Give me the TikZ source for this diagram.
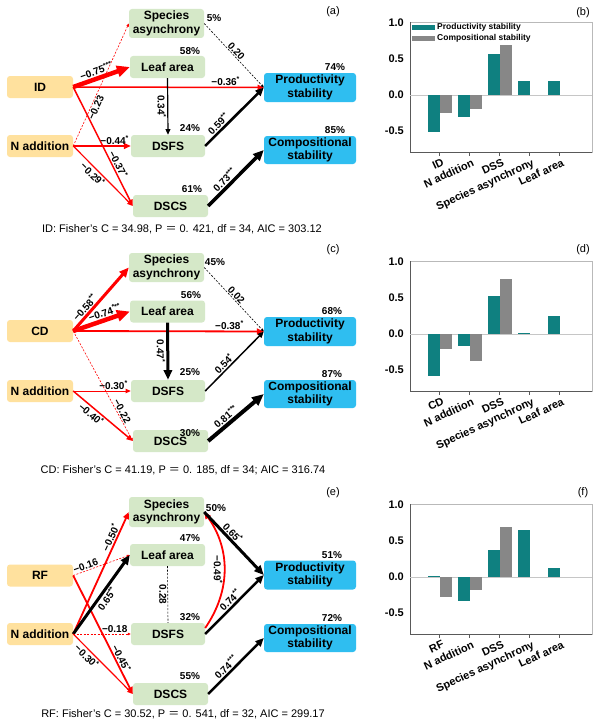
\documentclass[tikz,border=0pt]{standalone}
\usepackage{fontspec}
\setmainfont{Liberation Sans}
\newfontfamily\cjk{Noto Sans CJK SC}
\usetikzlibrary{arrows.meta}
\definecolor{boxgreen}{HTML}{D5E8C8}
\definecolor{boxyellow}{HTML}{FFE19E}
\definecolor{boxblue}{HTML}{2FBEF0}
\definecolor{tealc}{HTML}{0F8080}
\definecolor{grayc}{HTML}{878787}
\definecolor{redc}{HTML}{FF0000}
\newcommand{\st}[1]{\textsuperscript{#1}}
\newcommand{\bxf}{\fontsize{12}{13.5}\selectfont\bfseries}
\newcommand{\lbf}{\fontsize{10}{11}\selectfont\bfseries}
\newcommand{\pcf}{\fontsize{10}{11}\selectfont\bfseries}
\newcommand{\cpf}{\fontsize{11}{12}\selectfont}
\newcommand{\tkf}{\fontsize{11}{12}\selectfont\bfseries}
\newcommand{\lgf}{\fontsize{8.5}{10}\selectfont\bfseries}
\tikzset{
  anybox/.style={rounded corners=3pt, font=\bxf, align=center, inner sep=0pt, minimum height=22pt},
  gbox/.style={anybox, fill=boxgreen, minimum width=75pt},
  ybox/.style={anybox, fill=boxyellow, minimum width=66pt},
  bbox/.style={anybox, fill=boxblue, minimum width=92pt, minimum height=29pt},
  redar/.style={draw=redc, line width=#1, -{Triangle[length=3pt 2.2, width=2.5pt 1.9]}},
  blkar/.style={draw=black, line width=#1, -{Triangle[length=3pt 2.2, width=2.5pt 1.9]}},
  reddash/.style={draw=redc, line width=0.6pt, dash pattern=on 2pt off 1.5pt, -{Triangle[length=3pt, width=2.5pt]}},
  blkdash/.style={draw=black, line width=0.6pt, dash pattern=on 2pt off 1.5pt, -{Triangle[length=3pt, width=2.5pt]}},
  blkdashplain/.style={draw=black, line width=0.6pt, dash pattern=on 2pt off 1.5pt},
  lab/.style={font=\lbf, inner sep=1pt},
  pct/.style={font=\pcf, inner sep=0pt},
  captx/.style={font=\cpf, inner sep=0pt},
  plab/.style={font=\cpf, inner sep=0pt},
  ylab/.style={font=\tkf, inner sep=0pt, anchor=east},
  xlab/.style={font=\tkf, inner sep=0pt, anchor=north east, rotate=25},
}
\newcommand{\chartframe}{%
  \draw[gray!55, line width=0.7pt] (410,-73) rectangle (592,57.6);
  \draw[black!65, line width=0.8pt] (410,-73) -- (410,57.6) -- (592,57.6);
  \draw[gray!45, line width=0.7pt] (410,0) -- (592,0);
  \foreach \v/\t in {1/1.0,0.5/0.5,0/0.0,-0.5/-0.5} \node[ylab] at (404,-72*\v) {\t};
  \foreach \i in {0,...,4} \draw[black!65, line width=0.7pt] (439.5+30*\i,57.6) -- ++(0,3.5);
}
\begin{document}
\begin{tikzpicture}[x=1pt,y=-1pt]
\useasboundingbox (0,0) rectangle (604,725);
\fill[white] (0,0) rectangle (604,725);

% ================= panel (a) =================
\node[gbox, minimum height=29pt] (asa) at (166.5,23.5) {Species\\asynchrony};
\node[gbox] (ala) at (167.5,67) {Leaf area};
\node[ybox] (aid) at (40,87) {ID};
\node[ybox] (ana) at (40,146) {N addition};
\node[gbox, minimum width=74pt] (adsfs) at (168,146) {DSFS};
\node[gbox] (adscs) at (170.5,206) {DSCS};
\node[bbox] (aps) at (310,87.5) {Productivity\\stability};
\node[bbox, minimum height=28pt] (acs) at (310,150) {Compositional\\stability};
\node[pct] (ap1) at (214,18) {5\%};
\node[pct] (ap2) at (190,51) {58\%};
\node[pct] (ap3) at (190,128) {24\%};
\node[pct] (ap4) at (192,189) {61\%};
\node[pct] (ap5) at (335,67) {74\%};
\node[pct] (ap6) at (335,130) {85\%};
\node[plab] (apl) at (333,12) {(a)};
\draw[redar=4.5pt] (aid.east) -- node[lab,sloped,above,pos=0.45]{−0.75\st{***}} (ala.west);
\draw[redar=1.5pt] (aid.east) -- node[lab,above,pos=0.8]{−0.36\st{*}} (aps.west);
\draw[redar=1.5pt] (aid.east) -- node[lab,sloped,above,pos=0.67]{−0.37\st{*}} (adscs.west);
\draw[reddash] (ana.east) -- node[lab,sloped,below,pos=0.33]{−0.23} (asa.west);
\draw[redar=1.8pt] (ana.east) -- node[lab,above,pos=0.72]{−0.44\st{*}} (adsfs.west);
\draw[redar=1.2pt] (ana.east) -- node[lab,sloped,below,pos=0.4]{−0.29\st{*}} (adscs.west);
\draw[blkar=1.2pt] (ala.south) -- node[lab,rotate=-90,below,midway]{0.34\st{*}} (adsfs.north);
\draw[blkdash] (asa.east) -- node[lab,sloped,above,pos=0.48]{0.20} (aps.west);
\draw[blkar=2.5pt] (adsfs.east) -- node[lab,sloped,above,pos=0.3]{0.59\st{**}} (aps.west);
\draw[blkar=3.5pt] (adscs.east) -- node[lab,sloped,above,pos=0.38]{0.73\st{***}} (acs.west);
\node[captx] (acap) at (182,229) {ID: Fisher's C = 34.98, P {\cjk ＝} 0. 421, df = 34, AIC = 303.12};

% ================= panel (c) =================
\node[gbox, minimum height=29pt] (csa) at (166.5,267.5) {Species\\asynchrony};
\node[gbox] (cla) at (167.5,311.5) {Leaf area};
\node[ybox] (ccd) at (40,331) {CD};
\node[ybox] (cna) at (40,391) {N addition};
\node[gbox, minimum width=74pt] (cdsfs) at (168,391) {DSFS};
\node[gbox] (cdscs) at (170.5,441) {DSCS};
\node[bbox] (cps) at (310,331.5) {Productivity\\stability};
\node[bbox, minimum height=28pt] (ccs) at (310,394) {Compositional\\stability};
\node[pct] (cp1) at (215,262) {45\%};
\node[pct] (cp2) at (191,295) {56\%};
\node[pct] (cp3) at (190,372) {25\%};
\node[pct] (cp4) at (190,433) {30\%};
\node[pct] (cp5) at (332,311) {68\%};
\node[pct] (cp6) at (332,374) {87\%};
\node[plab] (cpl) at (333,250) {(c)};
\draw[redar=3pt] (ccd.east) -- node[lab,sloped,above,pos=0.3]{−0.58\st{**}} (csa.west);
\draw[redar=4.5pt] (ccd.east) -- node[lab,sloped,above,pos=0.6]{−0.74\st{***}} (cla.west);
\draw[redar=1.8pt] (ccd.east) -- node[lab,above,pos=0.82]{−0.38\st{*}} (cps.west);
\draw[reddash] (ccd.east) -- node[lab,sloped,above,pos=0.75]{−0.22} (cdscs.west);
\draw[redar=1pt] (cna.east) -- node[lab,above,pos=0.7]{−0.30\st{*}} (cdsfs.west);
\draw[redar=1.5pt] (cna.east) -- node[lab,sloped,below,pos=0.37]{−0.40\st{*}} (cdscs.west);
\draw[blkar=3pt] (cla.south) -- node[lab,rotate=-90,below,midway]{0.47\st{*}} (cdsfs.north);
\draw[blkdash] (csa.east) -- node[lab,sloped,above,pos=0.48]{0.02} (cps.west);
\draw[blkar=1.5pt] (cdsfs.east) -- node[lab,sloped,above,pos=0.39]{0.54\st{*}} (cps.west);
\draw[blkar=4pt] (cdscs.east) -- node[lab,sloped,above,pos=0.4]{0.81\st{***}} (ccs.west);
\node[captx] (ccap) at (183,470) {CD: Fisher's C = 41.19, P {\cjk ＝} 0. 185, df = 34; AIC = 316.74};

% ================= panel (e) =================
\node[gbox, minimum height=30pt] (esa) at (166.5,512) {Species\\asynchrony};
\node[gbox] (ela) at (167.5,555) {Leaf area};
\node[ybox] (erf) at (40,575.5) {RF};
\node[ybox] (ena) at (40,634) {N addition};
\node[gbox, minimum width=74pt] (edsfs) at (168,634) {DSFS};
\node[gbox] (edscs) at (170.5,694) {DSCS};
\node[bbox] (eps) at (310,575) {Productivity\\stability};
\node[bbox, minimum height=28pt] (ecs) at (310,638) {Compositional\\stability};
\node[pct] (ep1) at (216,508) {50\%};
\node[pct] (ep2) at (190,538) {47\%};
\node[pct] (ep3) at (190,617) {32\%};
\node[pct] (ep4) at (190,676) {55\%};
\node[pct] (ep5) at (332,555) {51\%};
\node[pct] (ep6) at (332,618) {72\%};
\node[plab] (epl) at (333,493) {(e)};
\draw[reddash] (erf.east) -- node[lab,sloped,above,pos=0.25]{−0.16} (ela.west);
\draw[redar=1.8pt] (erf.east) -- node[lab,sloped,above,pos=0.72]{−0.45\st{*}} (edscs.west);
\draw[redar=1.8pt] (ena.east) -- node[lab,sloped,above,pos=0.77]{−0.50\st{*}} (esa.west);
\draw[blkar=3pt] (ena.east) -- node[lab,sloped,below,pos=0.5]{0.65\st{**}} (ela.west);
\draw[reddash] (ena.east) -- node[lab,above,pos=0.72]{−0.18} (edsfs.west);
\draw[redar=1.2pt] (ena.east) -- node[lab,sloped,below,pos=0.3]{−0.30\st{*}} (edscs.west);
\draw[blkdashplain] (ela.south) -- node[lab,rotate=-90,below,midway]{0.28} (edsfs.north);
\draw[redar=1.8pt] ([yshift=6pt]edsfs.east) to[bend right=35] node[lab,rotate=-90,below,midway]{−0.49\st{*}} (esa.east);
\draw[blkar=3pt] (esa.east) -- node[lab,sloped,above,pos=0.4]{0.65\st{*}} (eps.west);
\draw[blkar=2.5pt] (edsfs.east) -- node[lab,sloped,above,pos=0.5]{0.74\st{**}} (eps.west);
\draw[blkar=2.5pt] (edscs.east) -- node[lab,sloped,above,pos=0.4]{0.74\st{***}} (ecs.west);
\node[captx] (ecap) at (183,714) {RF: Fisher's C = 30.52, P {\cjk ＝} 0. 541, df = 32, AIC = 299.17};

% ================= chart (b) =================
\begin{scope}[shift={(0,95)}]
  \chartframe
  \fill[tealc] (428,0) rectangle (439.5,51*0.72);
  \fill[grayc] (440,0) rectangle (451.5,25*0.72);
  \fill[tealc] (458,0) rectangle (469.5,30*0.72);
  \fill[grayc] (470,0) rectangle (481.5,20*0.72);
  \fill[tealc] (488,0) rectangle (499.5,-57*0.72);
  \fill[grayc] (500,0) rectangle (511.5,-70*0.72);
  \fill[tealc] (518,0) rectangle (529.5,-19*0.72);
  \fill[tealc] (548,0) rectangle (559.5,-20*0.72);
  \foreach \i/\t in {0/ID,1/N addition,2/DSS,3/Species asynchrony,4/Leaf area}
    \node[xlab] at (441.5+30*\i,63) {\t};
  \fill[tealc] (412,-70) rectangle (435,-65);
  \fill[grayc] (412,-59) rectangle (435,-54);
  \node[font=\lgf, anchor=west, inner sep=0pt] at (437,-67.5) {Productivity stability};
  \node[font=\lgf, anchor=west, inner sep=0pt] at (437,-56.5) {Compositional stability};
\end{scope}
\node[plab] (bpl) at (583,13) {(b)};

% ================= chart (d) =================
\begin{scope}[shift={(0,334)}]
  \chartframe
  \fill[tealc] (428,0) rectangle (439.5,59*0.72);
  \fill[grayc] (440,0) rectangle (451.5,21*0.72);
  \fill[tealc] (458,0) rectangle (469.5,16*0.72);
  \fill[grayc] (470,0) rectangle (481.5,38*0.72);
  \fill[tealc] (488,0) rectangle (499.5,-53*0.72);
  \fill[grayc] (500,0) rectangle (511.5,-76*0.72);
  \fill[tealc] (518,0) rectangle (529.5,-1.5*0.72);
  \fill[tealc] (548,0) rectangle (559.5,-25*0.72);
  \foreach \i/\t in {0/CD,1/N addition,2/DSS,3/Species asynchrony,4/Leaf area}
    \node[xlab] at (441.5+30*\i,63) {\t};
\end{scope}
\node[plab] (dpl) at (583,250) {(d)};

% ================= chart (f) =================
\begin{scope}[shift={(0,577)}]
  \chartframe
  \fill[tealc] (428,0) rectangle (439.5,-2*0.72);
  \fill[grayc] (440,0) rectangle (451.5,28*0.72);
  \fill[tealc] (458,0) rectangle (469.5,33*0.72);
  \fill[grayc] (470,0) rectangle (481.5,18*0.72);
  \fill[tealc] (488,0) rectangle (499.5,-37*0.72);
  \fill[grayc] (500,0) rectangle (511.5,-70*0.72);
  \fill[tealc] (518,0) rectangle (529.5,-65*0.72);
  \fill[tealc] (548,0) rectangle (559.5,-12*0.72);
  \foreach \i/\t in {0/RF,1/N addition,2/DSS,3/Species asynchrony,4/Leaf area}
    \node[xlab] at (441.5+30*\i,63) {\t};
\end{scope}
\node[plab] (fpl) at (583,493) {(f)};
\end{tikzpicture}
\end{document}
